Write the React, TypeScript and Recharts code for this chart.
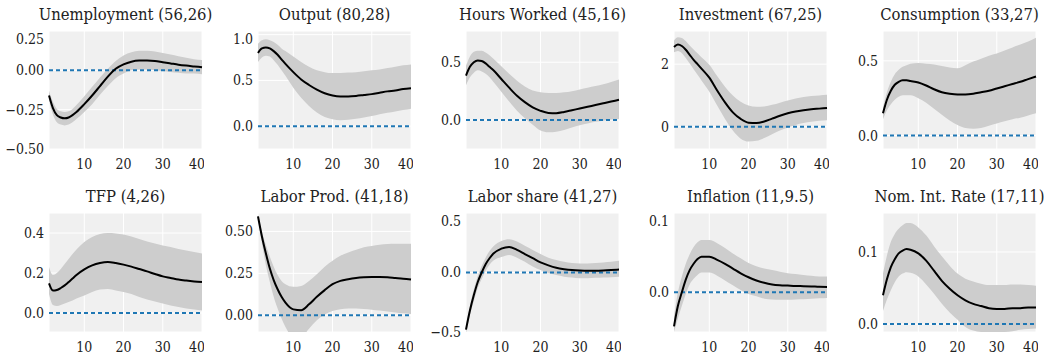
import { Area, CartesianGrid, ComposedChart, Line, ReferenceLine, XAxis, YAxis } from "recharts";

const horizon = [1, 2, 3, 4, 5, 6, 7, 8, 10, 12, 14, 16, 18, 20, 22, 24, 26, 28, 30, 32, 34, 36, 38, 40];
const xTicks = [10, 20, 30, 40];

const unempLine = [-0.16, -0.24, -0.285, -0.3, -0.305, -0.3, -0.285, -0.265, -0.215, -0.16, -0.1, -0.04, 0.01, 0.038, 0.055, 0.062, 0.063, 0.06, 0.052, 0.044, 0.036, 0.03, 0.025, 0.02];
const unempUpper = [-0.13, -0.2, -0.245, -0.26, -0.265, -0.26, -0.245, -0.22, -0.165, -0.105, -0.045, 0.01, 0.06, 0.095, 0.115, 0.125, 0.125, 0.12, 0.11, 0.1, 0.09, 0.08, 0.07, 0.065];
const unempLower = [-0.19, -0.28, -0.33, -0.345, -0.35, -0.345, -0.33, -0.31, -0.265, -0.215, -0.155, -0.1, -0.05, -0.02, 0.0, 0.005, 0.005, 0.0, -0.005, -0.01, -0.015, -0.02, -0.02, -0.025];

const outputLine = [0.8, 0.85, 0.86, 0.85, 0.82, 0.78, 0.73, 0.68, 0.59, 0.51, 0.45, 0.4, 0.36, 0.335, 0.325, 0.325, 0.33, 0.34, 0.35, 0.365, 0.38, 0.39, 0.405, 0.415];
const outputUpper = [0.9, 0.94, 0.95, 0.94, 0.92, 0.89, 0.85, 0.82, 0.76, 0.7, 0.65, 0.61, 0.59, 0.58, 0.58, 0.585, 0.59, 0.6, 0.61, 0.62, 0.635, 0.65, 0.665, 0.675];
const outputLower = [0.7, 0.75, 0.77, 0.76, 0.72, 0.67, 0.61, 0.55, 0.42, 0.31, 0.22, 0.15, 0.1, 0.075, 0.065, 0.07, 0.08, 0.095, 0.11, 0.13, 0.145, 0.16, 0.175, 0.19];

const hoursLine = [0.385, 0.46, 0.5, 0.515, 0.51, 0.49, 0.46, 0.43, 0.355, 0.28, 0.21, 0.155, 0.11, 0.08, 0.062, 0.06, 0.07, 0.085, 0.1, 0.115, 0.13, 0.145, 0.16, 0.175];
const hoursUpper = [0.47, 0.55, 0.59, 0.6, 0.6, 0.585, 0.56, 0.53, 0.465, 0.4, 0.34, 0.29, 0.255, 0.24, 0.235, 0.235, 0.24, 0.25, 0.265, 0.28, 0.295, 0.31, 0.33, 0.35];
const hoursLower = [0.3, 0.37, 0.41, 0.43, 0.42, 0.4, 0.37, 0.33, 0.245, 0.16, 0.08, 0.015, -0.04, -0.09, -0.105, -0.1, -0.085, -0.065, -0.045, -0.03, -0.015, -0.005, 0.005, 0.01];

const investLine = [2.55, 2.63, 2.58, 2.46, 2.3, 2.14, 2.0, 1.86, 1.57, 1.16, 0.78, 0.46, 0.25, 0.13, 0.12, 0.17, 0.26, 0.35, 0.43, 0.49, 0.53, 0.56, 0.58, 0.6];
const investUpper = [2.76, 2.86, 2.84, 2.74, 2.6, 2.47, 2.35, 2.22, 1.98, 1.62, 1.28, 1.0, 0.8, 0.68, 0.64, 0.65, 0.7, 0.77, 0.84, 0.9, 0.95, 0.98, 1.0, 1.02];
const investLower = [2.38, 2.42, 2.35, 2.2, 2.02, 1.84, 1.66, 1.48, 1.12, 0.68, 0.25, -0.12, -0.38, -0.47, -0.45, -0.36, -0.24, -0.12, -0.02, 0.06, 0.12, 0.16, 0.19, 0.21];

const consLine = [0.15, 0.24, 0.3, 0.34, 0.36, 0.37, 0.37, 0.365, 0.355, 0.335, 0.31, 0.29, 0.28, 0.275, 0.275, 0.28, 0.29, 0.3, 0.315, 0.33, 0.345, 0.36, 0.378, 0.395];
const consUpper = [0.19, 0.29, 0.36, 0.41, 0.44, 0.46, 0.47, 0.48, 0.485, 0.48, 0.475, 0.465, 0.455, 0.45, 0.47, 0.495, 0.515, 0.535, 0.55, 0.57, 0.59, 0.61, 0.63, 0.655];
const consLower = [0.11, 0.17, 0.21, 0.24, 0.26, 0.27, 0.27, 0.27, 0.25, 0.22, 0.18, 0.14, 0.1, 0.07, 0.05, 0.045, 0.05, 0.065, 0.08, 0.095, 0.11, 0.12, 0.135, 0.15];

const tfpLine = [0.148, 0.112, 0.115, 0.125, 0.138, 0.155, 0.172, 0.19, 0.218, 0.238, 0.25, 0.255, 0.25, 0.242, 0.232, 0.22, 0.208, 0.195, 0.183, 0.175, 0.167, 0.162, 0.158, 0.155];
const tfpUpper = [0.23, 0.19, 0.2, 0.22, 0.245, 0.27, 0.295, 0.318, 0.355, 0.38, 0.395, 0.4, 0.398, 0.393, 0.382, 0.37, 0.358, 0.348, 0.338, 0.33, 0.32, 0.313, 0.305, 0.297];
const tfpLower = [0.095, 0.04, 0.035, 0.04, 0.047, 0.055, 0.063, 0.072, 0.088, 0.105, 0.117, 0.12, 0.113, 0.105, 0.095, 0.08, 0.068, 0.058, 0.047, 0.038, 0.03, 0.023, 0.018, 0.013];

const prodLine = [0.59, 0.47, 0.37, 0.28, 0.21, 0.155, 0.11, 0.075, 0.035, 0.03, 0.065, 0.11, 0.15, 0.185, 0.205, 0.215, 0.222, 0.226, 0.228, 0.228, 0.226, 0.222, 0.218, 0.213];
const prodUpper = [0.6, 0.5, 0.42, 0.35, 0.29, 0.24, 0.205, 0.185, 0.17, 0.175, 0.205, 0.245, 0.29, 0.325, 0.355, 0.375, 0.39, 0.405, 0.413, 0.42, 0.425, 0.427, 0.427, 0.427];
const prodLower = [0.58, 0.43, 0.3, 0.2, 0.11, 0.04, -0.02, -0.07, -0.13, -0.13, -0.08, -0.03, 0.005, 0.025, 0.035, 0.04, 0.04, 0.037, 0.033, 0.028, 0.022, 0.017, 0.012, 0.008];

const shareLine = [-0.48, -0.32, -0.19, -0.08, 0.0, 0.07, 0.12, 0.16, 0.2, 0.215, 0.19, 0.155, 0.12, 0.085, 0.06, 0.04, 0.028, 0.02, 0.016, 0.014, 0.014, 0.016, 0.02, 0.025];
const shareUpper = [-0.45, -0.28, -0.14, -0.03, 0.055, 0.125, 0.18, 0.22, 0.265, 0.28, 0.26, 0.225, 0.19, 0.155, 0.125, 0.105, 0.09, 0.08, 0.076, 0.076, 0.08, 0.085, 0.09, 0.098];
const shareLower = [-0.51, -0.36, -0.24, -0.13, -0.055, 0.015, 0.065, 0.1, 0.13, 0.148, 0.125, 0.09, 0.05, 0.02, -0.005, -0.022, -0.035, -0.043, -0.048, -0.048, -0.045, -0.042, -0.04, -0.036];

const inflLine = [-0.043, -0.017, 0.0, 0.016, 0.028, 0.036, 0.042, 0.045, 0.045, 0.041, 0.036, 0.03, 0.024, 0.019, 0.015, 0.012, 0.01, 0.009, 0.0085, 0.008, 0.0078, 0.0075, 0.007, 0.0068];
const inflUpper = [-0.03, 0.0, 0.02, 0.036, 0.048, 0.057, 0.063, 0.066, 0.066, 0.062, 0.056, 0.049, 0.043, 0.037, 0.033, 0.03, 0.028, 0.026, 0.024, 0.023, 0.022, 0.021, 0.02, 0.02];
const inflLower = [-0.05, -0.033, -0.017, -0.002, 0.01, 0.017, 0.022, 0.025, 0.025, 0.021, 0.015, 0.009, 0.003, -0.002, -0.005, -0.008, -0.009, -0.0095, -0.0095, -0.009, -0.0088, -0.008, -0.0075, -0.007];

const rateLine = [0.04, 0.062, 0.079, 0.09, 0.098, 0.102, 0.104, 0.103, 0.098, 0.088, 0.074, 0.06, 0.049, 0.04, 0.033, 0.028, 0.025, 0.022, 0.021, 0.021, 0.022, 0.022, 0.023, 0.023];
const rateUpper = [0.07, 0.095, 0.114, 0.125, 0.132, 0.137, 0.14, 0.14, 0.134, 0.123, 0.108, 0.094, 0.081, 0.07, 0.063, 0.059, 0.056, 0.054, 0.054, 0.054, 0.055, 0.055, 0.054, 0.053];
const rateLower = [0.018, 0.034, 0.047, 0.058, 0.066, 0.07, 0.072, 0.071, 0.066, 0.055, 0.042, 0.028, 0.016, 0.006, -0.004, -0.009, -0.011, -0.012, -0.012, -0.011, -0.01, -0.008, -0.007, -0.006];

const titles = [
  "Unemployment (56,26)", "Output (80,28)", "Hours Worked (45,16)", "Investment (67,25)", "Consumption (33,27)",
  "TFP (4,26)", "Labor Prod. (41,18)", "Labor share (41,27)", "Inflation (11,9.5)", "Nom. Int. Rate (17,11)",
];

const panels = [
  { line: unempLine, upper: unempUpper, lower: unempLower, domain: [-0.5, 0.25], ticks: [-0.5, -0.25, 0, 0.25], digits: 2 },
  { line: outputLine, upper: outputUpper, lower: outputLower, domain: [-0.25, 1.04], ticks: [0, 0.5, 1], digits: 1 },
  { line: hoursLine, upper: hoursUpper, lower: hoursLower, domain: [-0.25, 0.77], ticks: [0, 0.5], digits: 1 },
  { line: investLine, upper: investUpper, lower: investLower, domain: [-0.71, 3.06], ticks: [0, 2], digits: 0 },
  { line: consLine, upper: consUpper, lower: consLower, domain: [-0.09, 0.7], ticks: [0, 0.5], digits: 1 },
  { line: tfpLine, upper: tfpUpper, lower: tfpLower, domain: [-0.095, 0.5], ticks: [0, 0.2, 0.4], digits: 1 },
  { line: prodLine, upper: prodUpper, lower: prodLower, domain: [-0.1, 0.61], ticks: [0, 0.25, 0.5], digits: 2 },
  { line: shareLine, upper: shareUpper, lower: shareLower, domain: [-0.5, 0.5], ticks: [-0.5, 0, 0.5], digits: 1 },
  { line: inflLine, upper: inflUpper, lower: inflLower, domain: [-0.05, 0.1], ticks: [0, 0.1], digits: 1 },
  { line: rateLine, upper: rateUpper, lower: rateLower, domain: [-0.011, 0.154], ticks: [0, 0.1], digits: 1 },
];

const colLeft = [49, 258, 466, 674, 883];
const rowTop = [31, 213];
const rowTitleY = [15, 197];
const plotW = 153;
const plotH = [118, 119];
const font = "'DejaVu Serif Condensed', 'DejaVu Serif', serif";

const fmt = (digits: number) => (v: number) => {
  const s = Math.abs(v).toFixed(digits);
  return v < 0 ? "\u2212" + s : s;
};

function Panel({ idx }: { idx: number }) {
  const p = panels[idx];
  const col = idx % 5;
  const row = Math.floor(idx / 5);
  const data = horizon.map((h, i) => ({ h, y: p.line[i], band: [p.lower[i], p.upper[i]] }));
  const left = colLeft[col];
  const top = rowTop[row];
  const h = plotH[row];
  return (
    <>
      <div
        style={{
          position: "absolute",
          left: left + plotW / 2 - 110,
          top: rowTitleY[row] - 11,
          width: 220,
          textAlign: "center",
          fontFamily: font,
          fontSize: 16.5,
          lineHeight: "22px",
          color: "#222",
          whiteSpace: "nowrap",
        }}
      >
        {titles[idx]}
      </div>
      <div style={{ position: "absolute", left: left - 50, top }}>
        <ComposedChart width={50 + plotW + 2} height={h + 26} data={data} margin={{ top: 0, right: 2, left: 0, bottom: 0 }}>
          <CartesianGrid fill="#f0f0f0" stroke="#ffffff" strokeWidth={1} />
          <XAxis
            dataKey="h"
            type="number"
            domain={[1, 40]}
            ticks={xTicks}
            axisLine={false}
            tickLine={false}
            tickSize={0}
            tickMargin={10}
            height={26}
            tick={{ fill: "#222", fontSize: 14, fontFamily: font }}
          />
          <YAxis
            type="number"
            domain={p.domain}
            allowDataOverflow
            ticks={p.ticks}
            axisLine={false}
            tickLine={false}
            tickSize={0}
            tickMargin={5}
            width={50}
            tickFormatter={fmt(p.digits)}
            tick={{ fill: "#222", fontSize: 14, fontFamily: font }}
          />
          <Area dataKey="band" type="monotone" stroke="none" fill="#cdcdcd" fillOpacity={1} isAnimationActive={false} />
          <ReferenceLine y={0} stroke="#1f77b4" strokeWidth={2} strokeDasharray="4 3" />
          <Line dataKey="y" type="monotone" stroke="#000" strokeWidth={2} dot={false} isAnimationActive={false} />
        </ComposedChart>
      </div>
    </>
  );
}

export default function App() {
  return (
    <div style={{ position: "absolute", left: 0, top: 0, width: 1046, height: 353, background: "#fff" }}>
      {panels.map((_, i) => (
        <Panel key={i} idx={i} />
      ))}
    </div>
  );
}
